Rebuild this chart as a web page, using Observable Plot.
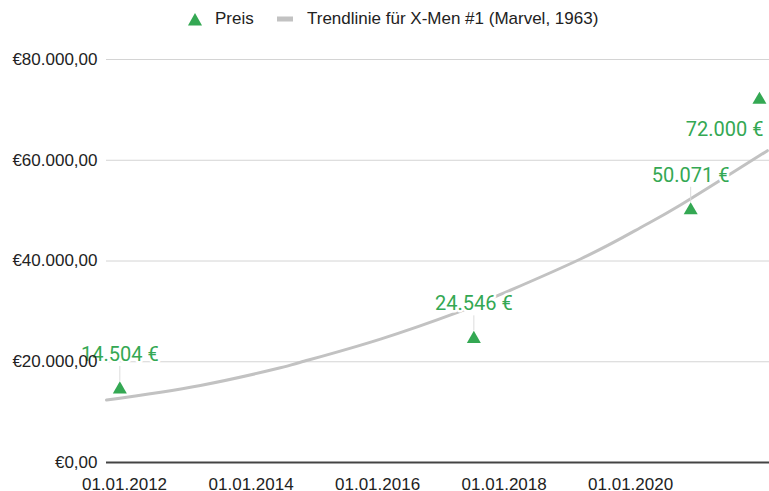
<!DOCTYPE html>
<html>
<head>
<meta charset="utf-8">
<script src="https://cdn.jsdelivr.net/npm/d3@7"></script>
<script src="https://cdn.jsdelivr.net/npm/@observablehq/plot@0.6"></script>
<style>
  html, body { margin: 0; padding: 0; background: #fff; }
  #wrap { width: 769px; height: 491px; position: relative; overflow: hidden; }
  #legend { position: relative; height: 38px; font-family: "Liberation Sans", Arial, sans-serif; font-size: 17px; color: #222; }
  #legend .item { position: absolute; top: 0; height: 38px; display: flex; align-items: center; }
  #legend svg { display: block; }
  #chart svg { display: block; }
</style>
</head>
<body>
<div id="wrap">
  <div id="legend"></div>
  <div id="chart"></div>
</div>
<script>
// ---- data ----
const seriesNames = ["Preis", "Trendlinie für X-Men #1 (Marvel, 1963)"];
const priceDates = ["2011-12-05", "2017-07-10", "2020-12-13", "2022-01-14"];
const priceValues = [14504, 24546, 50071, 72000];
const trendDates = ["2011-09-19", "2013-03-14", "2014-06-19", "2014-10-13", "2016-01-18", "2017-04-07", "2017-10-14", "2019-03-18", "2020-02-26", "2020-10-15", "2022-03-01"];
const trendValues = [12400, 15300, 18800, 19900, 24500, 29800, 32500, 40400, 46600, 51100, 61900];
const xTickDates = ["2012-01-01", "2014-01-01", "2016-01-01", "2018-01-01", "2020-01-01"];
const yTickValues = [0, 20000, 40000, 60000, 80000];
const xDomain = ["2011-09-19", "2022-03-13"];

// ---- formatting ----
const de = d3.formatLocale({decimal: ",", thousands: ".", grouping: [3], currency: ["€", ""]});
const fmtAxis = de.format("$,.2f");
const fmtLabel = v => de.format(",.0f")(v) + " €";
const fmtDate = d3.utcFormat("%d.%m.%Y");

const green = "#34a853";
const trendGray = "#c2c2c2";

const points = priceDates.map((d, i) => ({date: new Date(d), value: priceValues[i], label: fmtLabel(priceValues[i]), last: i === priceDates.length - 1}));
const trend = trendDates.map((d, i) => ({date: new Date(d), value: trendValues[i]}));
const above = points.filter(p => !p.last);
const below = points.filter(p => p.last);

// ---- legend ----
const legend = document.getElementById("legend");
legend.innerHTML = `
  <div class="item" style="left:188px">
    <svg width="14" height="13"><path d="M7,0 L14,12.5 L0,12.5 Z" fill="${green}"/></svg>
    <span style="margin-left:13px">${seriesNames[0]}</span>
  </div>
  <div class="item" style="left:277px">
    <svg width="16" height="6"><rect x="0" y="0.5" width="16" height="5" fill="${trendGray}"/></svg>
    <span style="margin-left:14px">${seriesNames[1]}</span>
  </div>`;

// ---- chart ----
const chart = Plot.plot({
  width: 769,
  height: 453,
  marginLeft: 106,
  marginRight: 0,
  marginTop: 21,
  marginBottom: 29,
  style: {fontFamily: "'Liberation Sans', Arial, sans-serif", fontSize: "17px", color: "#222", background: "#fff", overflow: "visible"},
  x: {type: "utc", domain: xDomain.map(d => new Date(d))},
  y: {domain: [0, 80000]},
  marks: [
    Plot.ruleY(yTickValues.filter(v => v > 0), {stroke: "#d4d4d4", strokeWidth: 1}),
    Plot.line(trend, {x: "date", y: "value", stroke: trendGray, strokeWidth: 3, curve: "natural"}),
    Plot.ruleX(above, {x: "date", y1: "value", y2: "value", insetTop: -23, insetBottom: 8, stroke: "#dcdcdc", strokeWidth: 1}),
    Plot.dot(points, {x: "date", y: "value", symbol: "triangle", r: 5.2, fill: green, stroke: "none"}),
    Plot.text(above, {x: "date", y: "value", text: "label", dy: -35, fill: green, fontFamily: "Roboto", fontSize: 20, stroke: "#fff", strokeWidth: 5}),
    Plot.text(below, {x: "date", y: "value", text: "label", dy: 30, dx: 4, textAnchor: "end", fill: green, fontFamily: "Roboto", fontSize: 20, stroke: "#fff", strokeWidth: 5}),
    Plot.ruleY([0], {stroke: "#444", strokeWidth: 2}),
    Plot.axisY({ticks: yTickValues, tickSize: 0, tickPadding: 9, tickFormat: fmtAxis, label: null, fill: "#222"}),
    Plot.axisX({ticks: xTickDates.map(d => new Date(d)), tickSize: 0, tickPadding: 15, tickFormat: fmtDate, label: null, fill: "#222"})
  ]
});
document.getElementById("chart").appendChild(chart);
</script>
</body>
</html>
